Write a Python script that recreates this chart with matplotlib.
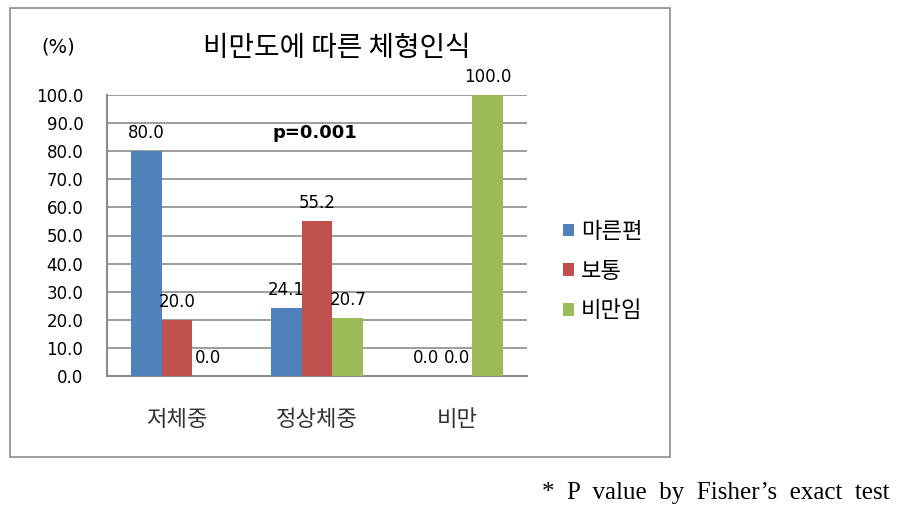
import matplotlib
matplotlib.use("Agg")
import matplotlib.pyplot as plt
import matplotlib.patches as mpatches
import numpy as np

plt.rcParams["font.family"] = ["Noto Sans CJK KR", "DejaVu Sans"]

# 데이터
categories = ["저체중", "정상체중", "비만"]
series_names = ["마른편", "보통", "비만임"]
thin_values = [80.0, 24.1, 0.0]
normal_values = [20.0, 55.2, 0.0]
obese_values = [0.0, 20.7, 100.0]
y_ticks = [0, 10, 20, 30, 40, 50, 60, 70, 80, 90, 100]

COLORS = ["#4F81BD", "#C0504D", "#9BBB59"]
GRID = "#8C8C8C"

fig = plt.figure(figsize=(9.08, 5.26), dpi=100)
ax = fig.add_axes([107 / 908, 1 - 376 / 526, 420 / 908, 281 / 526])

x = np.arange(len(categories))
width = 0.221
all_values = [thin_values, normal_values, obese_values]

for i, (name, vals) in enumerate(zip(series_names, all_values)):
    pos = x + (i - 1) * width
    ax.bar(pos, vals, width=width, color=COLORS[i], label=name, zorder=3)
    for px, v in zip(pos, vals):
        ax.annotate(f"{v:.1f}", (px, v), xytext=(0, 13), textcoords="offset points",
                    ha="center", va="center", fontsize=12, family="DejaVu Sans")

ax.set_xlim(-0.5, 2.5)
ax.set_ylim(0, 100)
ax.set_yticks(y_ticks)
ax.set_yticklabels([f"{t:.1f}" for t in y_ticks], fontsize=12, family="DejaVu Sans")
ax.set_xticks(x)
ax.set_xticklabels(categories, fontsize=16, color="#333333")
ax.tick_params(axis="y", length=0, pad=17)
ax.tick_params(axis="x", length=0, pad=23)
ax.yaxis.grid(True, color=GRID, linewidth=1.2, zorder=0)
ax.set_axisbelow(True)
for s in ["top", "right"]:
    ax.spines[s].set_visible(False)
for s in ["left", "bottom"]:
    ax.spines[s].set_color(GRID)
    ax.spines[s].set_linewidth(1.5)

ax.text(0.985, 86.5, "p=0.001", ha="center", va="center", fontsize=13,
        fontweight="bold", family="DejaVu Sans")

ax.legend(loc="upper left", bbox_to_anchor=(543 / 908, 1 - 200 / 526),
          bbox_transform=fig.transFigure, frameon=False, fontsize=16,
          handlelength=0.5, handleheight=0.5, handletextpad=0.3, labelspacing=0.75)

fig.text(337 / 908, 1 - 48 / 526, "비만도에 따른 체형인식", ha="center", va="center", fontsize=20)
fig.text(58 / 908, 1 - 47 / 526, "(%)", ha="center", va="center", fontsize=14,
         family="DejaVu Sans")

# 바깥 테두리
fig.patches.append(mpatches.Rectangle((10 / 908, 1 - 457 / 526), 660 / 908, 449 / 526,
                                      transform=fig.transFigure, fill=False,
                                      edgecolor="#8C8C8C", linewidth=1.2))

fig.text(890 / 908, 1 - 493 / 526, "*  P  value  by  Fisher’s  exact  test", ha="right",
         va="center", fontsize=18, family="Liberation Serif")

fig.savefig("out.png", dpi=100)
